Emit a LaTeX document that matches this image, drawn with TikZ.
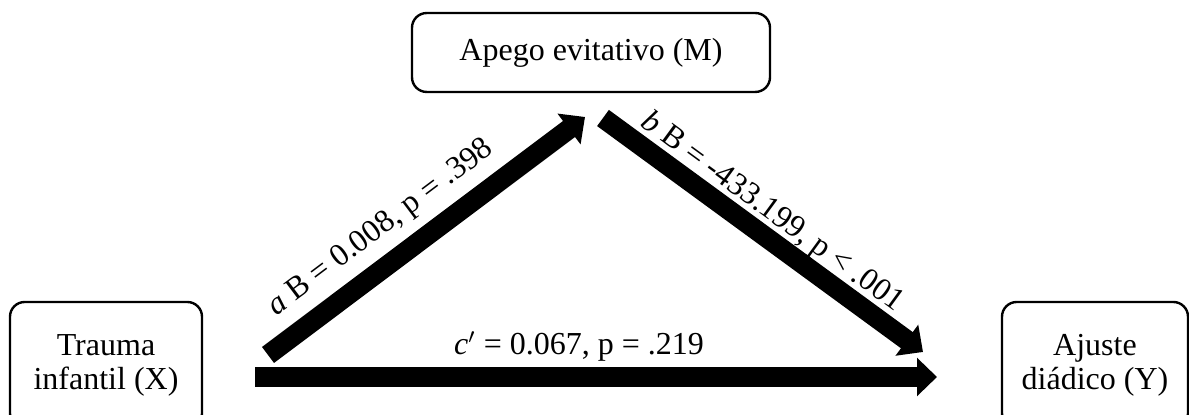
\documentclass[tikz,border=0pt]{standalone}
\usepackage{fontspec}
\setmainfont{Liberation Serif}
\usetikzlibrary{positioning,arrows.meta}

\begin{document}
\begin{tikzpicture}[
    x=0.375pt, y=0.375pt,
    % variable boxes (rounded, thin outline)
    varbox/.style={rectangle, rounded corners=5.5pt, draw, line width=0.9pt, align=center,
                   font=\fontsize{12}{12.75}\selectfont, inner sep=0pt},
    % heavy path arrows of the mediation model
    patharrow/.style={line width=7.5pt, -{Triangle[length=7.5pt, width=14pt]}},
    % coefficient labels sitting along the arrows
    coeflabel/.style={font=\fontsize{12}{14}\selectfont, inner sep=0pt, sloped}
]

% frame of the picture; the lower boxes run off its bottom edge
\useasboundingbox (0,0) rectangle (1189,415);
\clip (0,0) rectangle (1189,415);

% Variables
\node[varbox, minimum width=134.25pt, minimum height=29.6pt] (med) at (591,362.5) {Apego evitativo (M)};
\node[varbox, minimum width=72pt, minimum height=47.25pt] (xvar) at (106,50) {Trauma\\infantil (X)};
\node[varbox, minimum width=69.75pt, minimum height=47.25pt] (yvar) at (1095,50) {Ajuste\\diádico (Y)};

% arrow end points, kept clear of the boxes
\coordinate (xa) at (268,60);
\coordinate (ma) at (585,298);
\coordinate (mb) at (603,297);
\coordinate (yb) at (923,63);
\coordinate (xc) at (255,38);
\coordinate (yc) at (937,38);

% a path, b path and direct path c'
\draw[patharrow] (xa) -- node[coeflabel, pos=0.42, above=3.5pt] (alabel) {\textit{a} B = 0.008, p = .398} (ma);
\draw[patharrow] (mb) -- node[coeflabel, pos=0.485, above=-0.5pt] (blabel) {\textit{b} B = -433.199, p < .001} (yb);
\draw[patharrow] (xc) -- node[coeflabel, pos=0.475, above=2pt] (clabel) {\textit{c}$'$ = 0.067, p = .219} (yc);

\end{tikzpicture}
\end{document}
